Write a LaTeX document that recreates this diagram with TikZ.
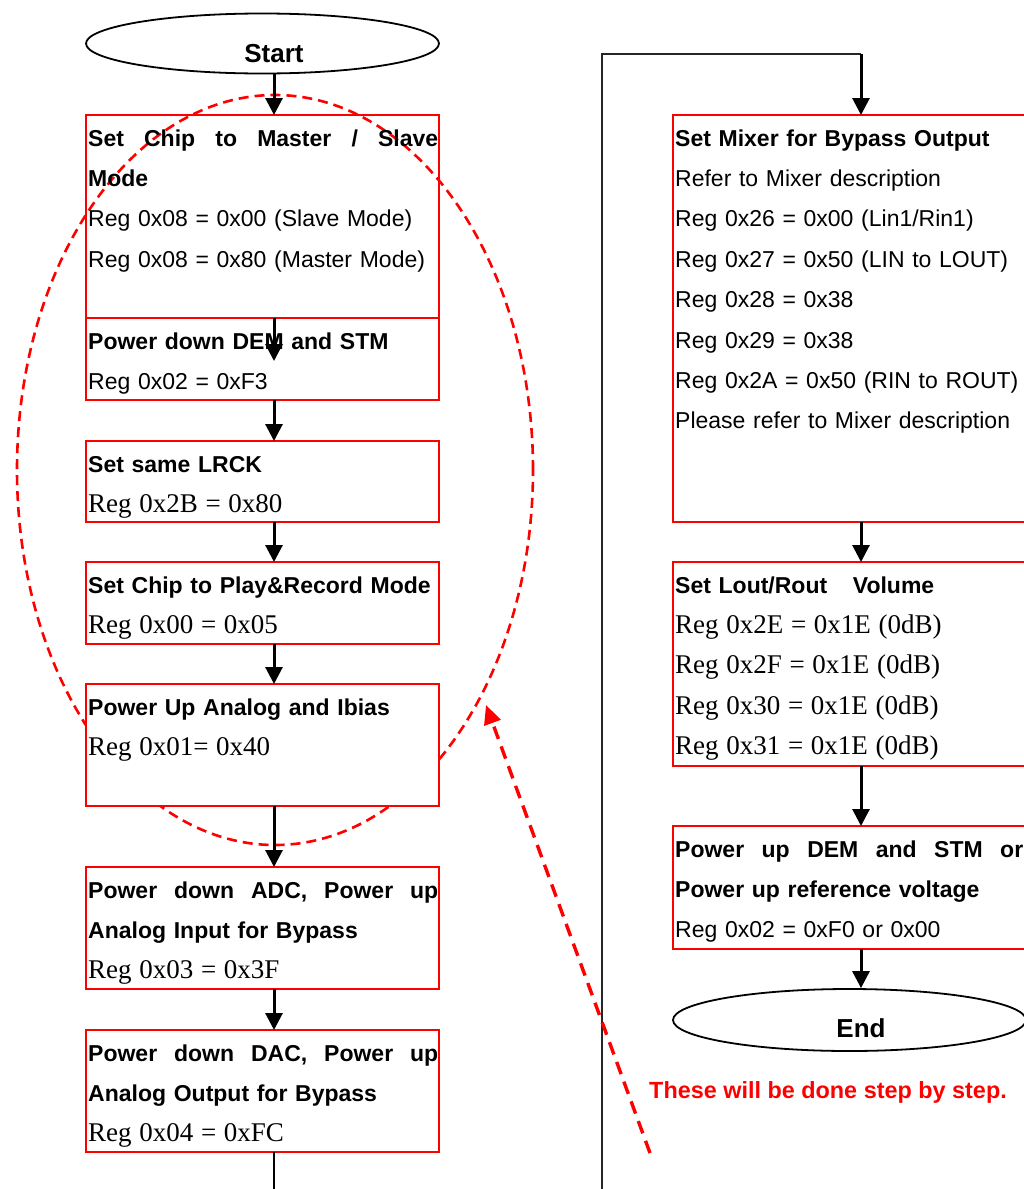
\documentclass[tikz,border=0pt]{standalone}
\usepackage{fontspec}
\setmainfont{Liberation Sans}
\newfontfamily\serf{Liberation Serif}
\usetikzlibrary{arrows.meta,shapes.geometric,calc}
\newcommand\sreg[1]{{\serf\fontsize{27pt}{40.4pt}\selectfont #1}}
\newcommand\jline[1]{\makebox[350pt][l]{\bfseries #1}}
\begin{document}
\begin{tikzpicture}[x=1pt,y=-1pt,
  box/.style={draw=red, line width=2pt, rectangle, minimum width=353pt, inner sep=0pt, outer sep=0pt, anchor=north west},
  txt/.style={anchor=base west, inner sep=0pt, text width=350pt, align=left, font=\fontsize{23pt}{40.4pt}\selectfont},
  term/.style={draw, ellipse, line width=1.8pt, minimum width=353pt, inner sep=0pt},
  termtxt/.style={anchor=base, inner sep=0pt, font=\fontsize{26pt}{30pt}\selectfont\bfseries},
  arr/.style={line width=3pt, -{Triangle[length=17pt,width=17pt]}},
  plainline/.style={line width=2.4pt},
  loopline/.style={line width=2pt, black!85},
  grpmark/.style={draw=red, ellipse, line width=2.6pt, dash pattern=on 10pt off 6pt, inner sep=0pt, minimum width=516pt, minimum height=750pt},
  notearrow/.style={draw=red, line width=3.4pt, dash pattern=on 13pt off 8pt, -{Triangle[length=19pt,width=17pt]}}
]
\useasboundingbox (0,0) rectangle (1024,1189);
\clip (0,0) rectangle (1024,1189);
\fill[white] (0,0) rectangle (1024,1189);

% group marker (dashed ellipse)
\node[grpmark] (grp) at (275,470) {};

% left column
\node[term, minimum height=60pt] (start) at (262.5,43.5) {};
\node[termtxt] (startt) at (274,62) {Start};

\node[box, minimum height=203pt] (b1) at (86,115) {};
\node[txt] (t1) at (88,146) {\jline{Set\hfill Chip\hfill to\hfill Master\hfill /\hfill Slave}\\\textbf{Mode}\\Reg 0x08 = 0x00 (Slave Mode)\\Reg 0x08 = 0x80 (Master Mode)};

\node[box, minimum height=82pt] (b2) at (86,318) {};
\node[txt] (t2) at (88,349) {\textbf{Power down DEM and STM}\\Reg 0x02 = 0xF3};

\node[box, minimum height=81pt, fill=white] (b3) at (86,441) {};
\node[txt] (t3) at (88,472) {\textbf{Set same LRCK}\\\sreg{Reg 0x2B = 0x80}};

\node[box, minimum height=82pt, fill=white] (b4) at (86,562) {};
\node[txt] (t4) at (88,593) {\textbf{Set Chip to Play\&Record Mode}\\\sreg{Reg 0x00 = 0x05}};

\node[box, minimum height=122pt, fill=white] (b5) at (86,684) {};
\node[txt] (t5) at (88,715) {\textbf{Power Up Analog and Ibias}\\\sreg{Reg 0x01= 0x40}};

\node[box, minimum height=122pt, fill=white] (b6) at (86,867) {};
\node[txt] (t6) at (88,898) {\jline{Power\hfill down\hfill ADC,\hfill Power\hfill up}\\\textbf{Analog Input for Bypass}\\\sreg{Reg 0x03 = 0x3F}};

\node[box, minimum height=122pt, fill=white] (b7) at (86,1030) {};
\node[txt] (t7) at (88,1061) {\jline{Power\hfill down\hfill DAC,\hfill Power\hfill up}\\\textbf{Analog Output for Bypass}\\\sreg{Reg 0x04 = 0xFC}};

% right column
\node[box, minimum height=407pt] (r1) at (673,115) {};
\node[txt] (u1) at (675,146) {\textbf{Set Mixer for Bypass Output}\\Refer to Mixer description\\Reg 0x26 = 0x00 (Lin1/Rin1)\\Reg 0x27 = 0x50 (LIN to LOUT)\\Reg 0x28 = 0x38\\Reg 0x29 = 0x38\\Reg 0x2A = 0x50 (RIN to ROUT)\\Please refer to Mixer description};

\node[box, minimum height=204pt] (r2) at (673,562) {};
\node[txt] (u2) at (675,593) {\textbf{Set Lout/Rout\hspace{18pt} Volume}\\\sreg{Reg 0x2E = 0x1E (0dB)}\\\sreg{Reg 0x2F = 0x1E (0dB)}\\\sreg{Reg 0x30 = 0x1E (0dB)}\\\sreg{Reg 0x31 = 0x1E (0dB)}};

\node[box, minimum height=123pt] (r3) at (673,826) {};
\node[txt] (u3) at (675,857) {\makebox[348pt][l]{\bfseries Power\hfill up\hfill DEM\hfill and\hfill STM\hfill or}\\\textbf{Power up reference voltage}\\Reg 0x02 = 0xF0 or 0x00};

\node[term, minimum height=62pt] (end) at (849.5,1020) {};
\node[termtxt] (endt) at (861,1037) {End};

% connectors
\coordinate (lx) at (274,0);
\coordinate (rx) at (861,0);
\draw[arr] (start.south -| lx) -- (b1.north -| lx);
\coordinate (b2in) at (274,361);
\draw[arr] (b1.south -| lx) -- (b2in);
\draw[arr] (b2.south -| lx) -- (b3.north -| lx);
\draw[arr] (b3.south -| lx) -- (b4.north -| lx);
\draw[arr] (b4.south -| lx) -- (b5.north -| lx);
\draw[arr] (b5.south -| lx) -- (b6.north -| lx);
\draw[arr] (b6.south -| lx) -- (b7.north -| lx);
\coordinate (lbot) at (274,1189);
\draw[plainline] (b7.south -| lx) -- (lbot);

\coordinate (rbot) at (602,1189);
\coordinate (rtop) at (602,54);
\coordinate (rturn) at (861,54);
\draw[loopline] (rbot) -- (rtop) -- (rturn);
\draw[arr] (rturn) -- (r1.north -| rx);
\draw[arr] (r1.south -| rx) -- (r2.north -| rx);
\draw[arr] (r2.south -| rx) -- (r3.north -| rx);
\draw[arr] (r3.south -| rx) -- (end.north -| rx);

% note
\node[anchor=base west, inner sep=0pt, text=red, font=\fontsize{23.4pt}{28pt}\selectfont\bfseries] (note) at (649,1098) {These will be done step by step.};
\coordinate (nA) at (650,1153);
\coordinate (nB) at (486,705);
\draw[notearrow] (nA) -- (nB);
\end{tikzpicture}
\end{document}
